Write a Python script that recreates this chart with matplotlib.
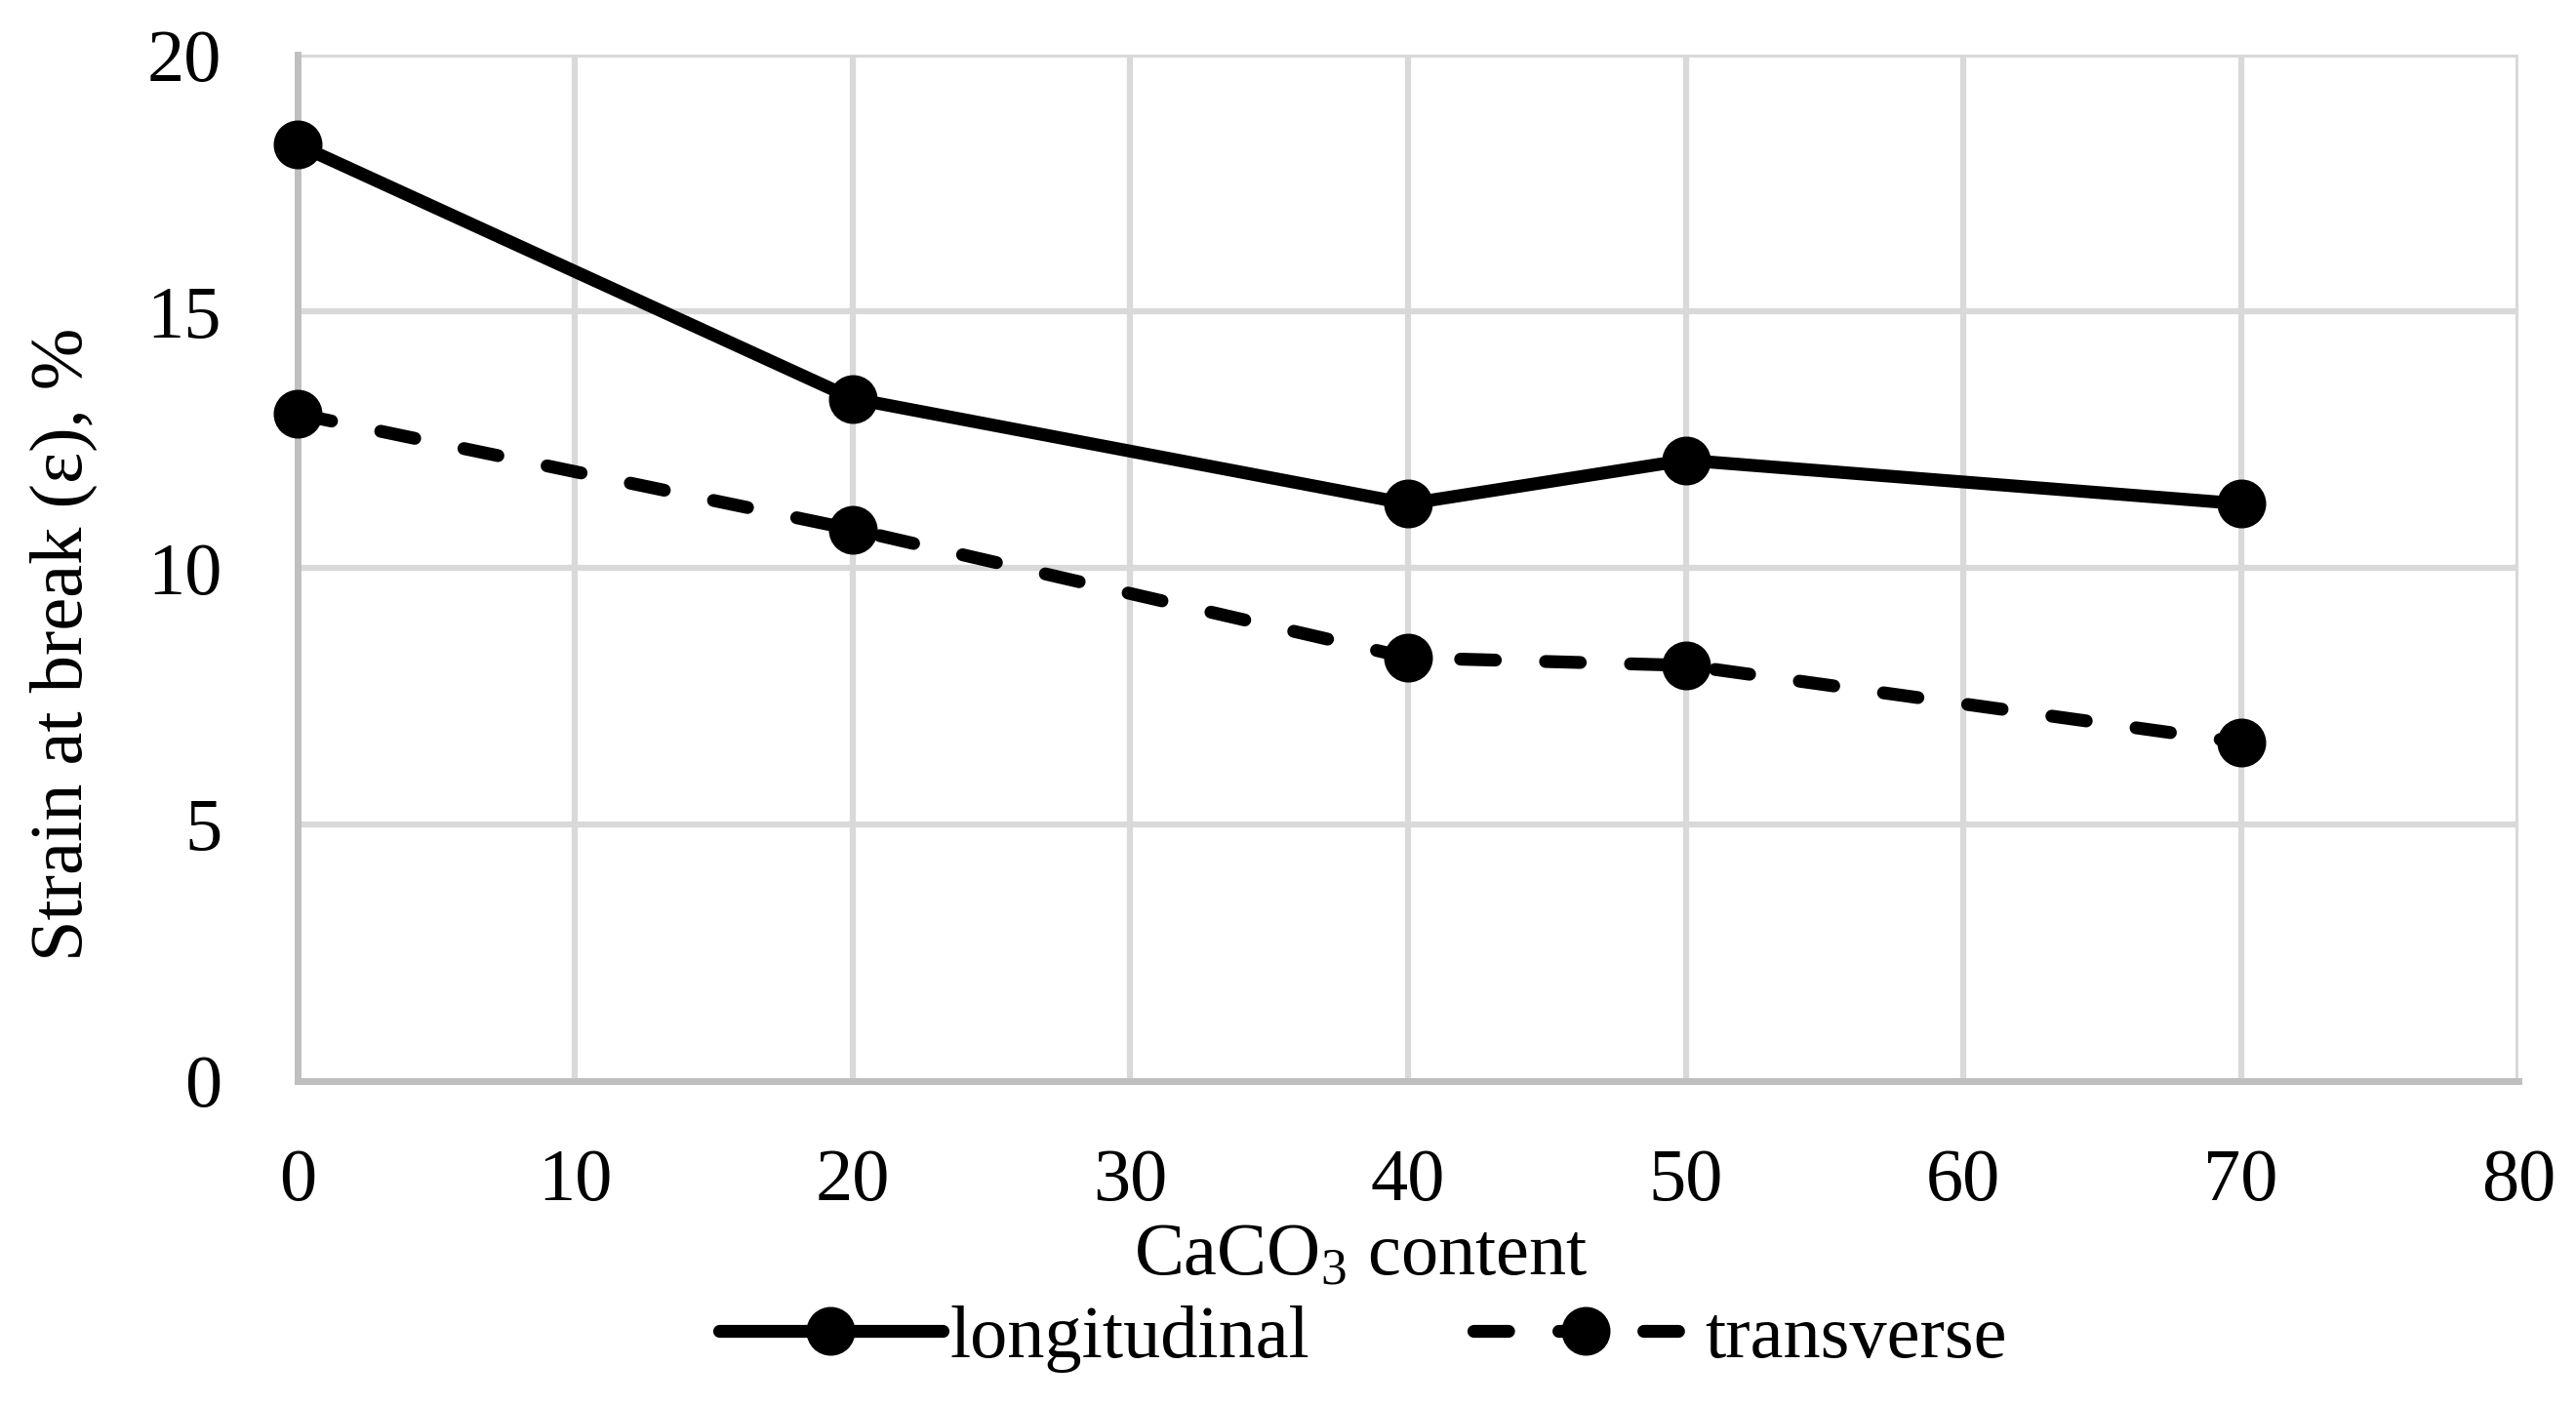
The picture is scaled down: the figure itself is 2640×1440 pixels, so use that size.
import matplotlib
matplotlib.use("Agg")
import matplotlib.pyplot as plt

caco3 = [0, 20, 40, 50, 70]
longitudinal = [18.25, 13.3, 11.25, 12.1, 11.25]
transverse = [13.0, 10.75, 8.25, 8.1, 6.6]
x_ticks = [0, 10, 20, 30, 40, 50, 60, 70, 80]
y_ticks = [0, 5, 10, 15, 20]

plt.rcParams['font.family'] = ['Liberation Serif', 'DejaVu Serif']
plt.rcParams['mathtext.fontset'] = 'custom'
plt.rcParams['mathtext.rm'] = 'Liberation Serif'
plt.rcParams['mathtext.it'] = 'Liberation Serif:italic'
plt.rcParams['mathtext.bf'] = 'Liberation Serif:bold'

FS = 55

fig = plt.figure(figsize=(26.4, 14.4), dpi=100)
ax = fig.add_axes([0.1155, 0.2306, 0.8622, 0.7304])

ax.plot(caco3, longitudinal, color='black', lw=9.5, marker='o', ms=35,
        solid_capstyle='round', solid_joinstyle='round', label='longitudinal',
        zorder=3, clip_on=False)
ax.plot(caco3, transverse, color='black', lw=9.5, marker='o', ms=35,
        linestyle=(0, (2.7, 3.9)), dash_capstyle='round', label='transverse',
        zorder=3, clip_on=False)

ax.set_xlim(0, 80)
ax.set_ylim(0, 20)
ax.set_xticks(x_ticks)
ax.set_yticks(y_ticks)
ax.grid(True, color='#d9d9d9', lw=4.5, zorder=0)
ax.set_axisbelow(True)
for s in ['top', 'right']:
    ax.spines[s].set_visible(False)
for s in ['left', 'bottom']:
    ax.spines[s].set_color('#bfbfbf')
    ax.spines[s].set_linewidth(5)
ax.tick_params(axis='both', length=0, labelsize=FS, colors='black')
ax.tick_params(axis='x', pad=50)
ax.tick_params(axis='y', pad=56)

ax.set_xlabel('CaCO$_3$ content', fontsize=FS)
ax.set_ylabel('Strain at break (ε), %', fontsize=FS)
ax.xaxis.set_label_coords(0.4786, -0.138)
ax.yaxis.set_label_coords(-0.09, 0.426)

fig.legend(loc='center', bbox_to_anchor=(0.529, 0.047), ncol=2, frameon=False,
           fontsize=FS, handlelength=3.0, handletextpad=0.1, columnspacing=2.2)

fig.savefig('out.png', dpi=100)
